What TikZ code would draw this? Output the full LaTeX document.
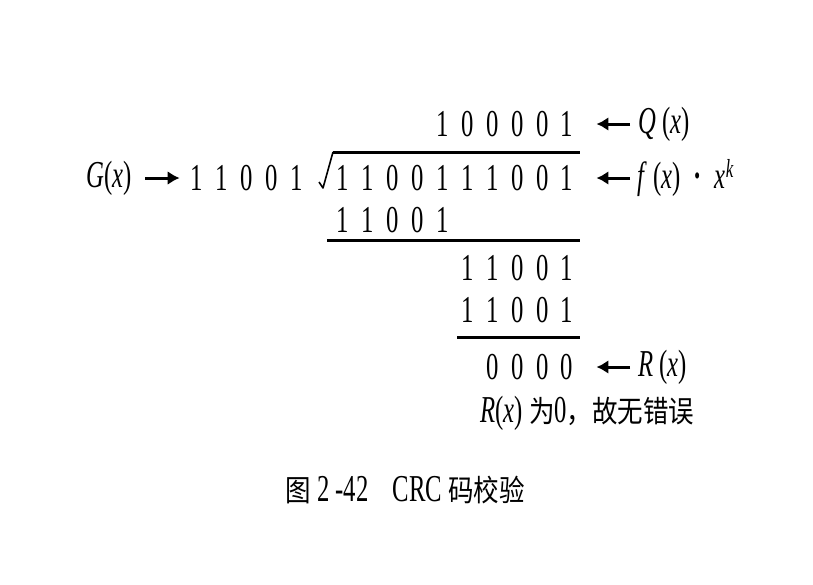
\documentclass[tikz,border=0pt]{standalone}
\usepackage{fontspec}
\usetikzlibrary{arrows.meta,positioning}
\newfontfamily\numfont[FakeStretch=0.65]{Liberation Serif}
\newfontfamily\cjkfont[FakeStretch=0.85]{Noto Sans CJK SC}
\newcommand{\bigsz}{\fontsize{38}{40}\selectfont}
\newcommand{\zh}[1]{{\cjkfont\fontsize{30}{32}\selectfont #1}}
\tikzset{
  digit/.style={inner sep=0pt,font=\numfont\bigsz},
  lab/.style={inner sep=0pt,anchor=west,font=\numfont\bigsz},
  pointer/.style={-{Latex[length=12pt,width=14pt]},line width=3pt},
  rule/.style={line width=3pt}
}

\begin{document}
\begin{tikzpicture}[x=1pt,y=-1pt]
  \useasboundingbox (0,0) rectangle (813,584);
  % quotient, dividend and the partial rows, one column every 24.9px
  \foreach \r/\y/\s/\ds in {q/124/4/{1,0,0,0,0,1},
                           f/178/0/{1,1,0,0,1,1,1,0,0,1},
                           a/220/0/{1,1,0,0,1},
                           b/268/5/{1,1,0,0,1},
                           c/310/5/{1,1,0,0,1},
                           r/367/6/{0,0,0,0}}
  {
    \foreach \d [count=\i from \s] in \ds {
      \pgfmathsetmacro{\x}{343+\i*24.9}
      \node[digit] (\r\i) at (\x,\y) {\d};
    }
  }
  % divisor
  \foreach \d [count=\i from 0] in {1,1,0,0,1} {
    \pgfmathsetmacro{\x}{197+\i*24.8}
    \node[digit] (g\i) at (\x,178) {\d};
  }
  \node[lab,anchor=east] (glab) at (132,178) {\textit{G}(\textit{x})};
  \node[lab] (qlab) at (638,124) {\textit{Q}\,(\textit{x})};
  \node[lab] (flab) at (637,178) {\textit{f}\,(\textit{x})\hspace{13pt}\textbf{·}\hspace{13pt}\textit{x}{\fontsize{26}{28}\selectfont\raisebox{11pt}{\textit{k}}}};
  \node[lab] (rlab) at (638,367) {\textit{R}\,(\textit{x})};
  \node[lab] (note) at (480,413) {\textit{R}(\textit{x})\,\zh{为}0\zh{，故无错误}};
  \node[lab,anchor=west] (title) at (285,490) {\zh{图}\,2\,-42\hspace{24pt}CRC\,\zh{码校验}};

  % division sign and rules
  \draw[line width=1.6pt,line join=round] (319,182) -- (323,188) -- (333,152);
  \draw[rule] (333,152) -- (580,152);
  \draw[rule] (327,240) -- (580,240);
  \draw[rule] (457,337) -- (580,337);

  \draw[pointer,shorten <=13pt,shorten >=11pt] (glab) -- (g0);
  \draw[pointer,shorten <=8pt,shorten >=23pt] (qlab.west) -- (q9);
  \draw[pointer,shorten <=7pt,shorten >=23pt] (flab.west |- f9) -- (f9);
  \draw[pointer,shorten <=8pt,shorten >=23pt] (rlab.west) -- (r9);
\end{tikzpicture}
\end{document}
